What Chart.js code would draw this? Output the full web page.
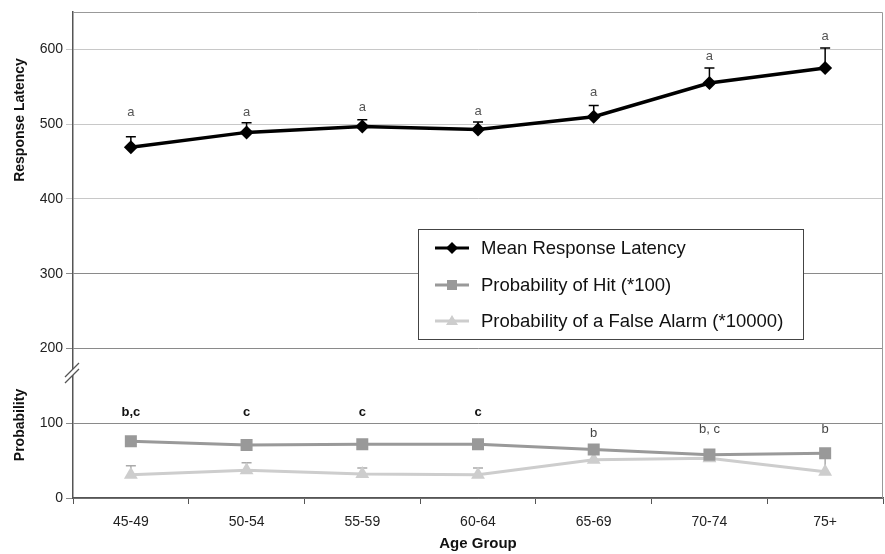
<!DOCTYPE html>
<html>
<head>
<meta charset="utf-8">
<script src="https://cdn.jsdelivr.net/npm/chart.js@4/dist/chart.umd.min.js"></script>
<style>
  body { margin: 0; background: #fff; }
  canvas { display: block; }
</style>
</head>
<body>
<canvas id="ageChart" width="885" height="554"></canvas>
<script>
const ageGroups = ["45-49", "50-54", "55-59", "60-64", "65-69", "70-74", "75+"];

const latency = [469, 489, 497, 493, 510, 555, 575];
const latencyErr = [14, 13, 9, 10, 15, 20, 27];
const latencyLetters = ["a", "a", "a", "a", "a", "a", "a"];
const latencyLetterPos = [516, 516, 522, 517, 542, 590, 618];

const hitProb = [76, 71, 72, 72, 65, 58, 60];
const falseAlarmProb = [31, 37, 32, 31, 51, 53, 35];
const falseAlarmErr = [12, 10, 8, 9, 0, 0, 18];
const probLetters = ["b,c", "c", "c", "c", "b", "b, c", "b"];
const probLetterPos = [114, 114, 114, 114, 87, 92, 92];
const probLetterBold = [true, true, true, true, false, false, false];

const yTicks = [0, 100, 200, 300, 400, 500, 600];

const FONT = "'Liberation Sans', Arial, sans-serif";
const seriesColors = { latency: "#000", hit: "#999", fa: "#cdcdcd" };

// error bars, letters, axis titles, break mark and legend
const decorations = {
  id: "decorations",
  beforeDatasetsDraw(chart) {
    const { ctx } = chart;
    const x = chart.scales.x, y = chart.scales.y;
    const bars = [
      { vals: latency, errs: latencyErr, color: seriesColors.latency },
      { vals: falseAlarmProb, errs: falseAlarmErr, color: "#aaa" },
    ];
    ctx.save();
    ctx.lineWidth = 1.5;
    for (const b of bars) {
      ctx.strokeStyle = b.color;
      b.vals.forEach((v, i) => {
        if (!b.errs[i]) return;
        const px = x.getPixelForValue(i);
        const y0 = y.getPixelForValue(v);
        const y1 = y.getPixelForValue(v + b.errs[i]);
        ctx.beginPath();
        ctx.moveTo(px, y0);
        ctx.lineTo(px, y1);
        ctx.moveTo(px - 5, y1);
        ctx.lineTo(px + 5, y1);
        ctx.stroke();
      });
    }
    ctx.restore();
  },
  afterDraw(chart) {
    const { ctx, chartArea: a } = chart;
    const x = chart.scales.x, y = chart.scales.y;
    ctx.save();

    // top and right frame
    ctx.strokeStyle = "#999";
    ctx.lineWidth = 1;
    ctx.beginPath();
    ctx.moveTo(a.left, a.top + 0.5);
    ctx.lineTo(a.right - 0.5, a.top + 0.5);
    ctx.lineTo(a.right - 0.5, a.bottom);
    ctx.stroke();

    // axis break
    const by = 373;
    ctx.fillStyle = "#fff";
    ctx.beginPath();
    ctx.moveTo(a.left - 8, by + 4);
    ctx.lineTo(a.left + 6, by - 10);
    ctx.lineTo(a.left + 6, by - 4);
    ctx.lineTo(a.left - 8, by + 10);
    ctx.closePath();
    ctx.fill();
    ctx.strokeStyle = "#555";
    ctx.lineWidth = 1.3;
    ctx.beginPath();
    ctx.moveTo(a.left - 8, by + 4);
    ctx.lineTo(a.left + 6, by - 10);
    ctx.moveTo(a.left - 8, by + 10);
    ctx.lineTo(a.left + 6, by - 4);
    ctx.stroke();

    // significance letters
    ctx.textAlign = "center";
    ctx.textBaseline = "middle";
    ctx.fillStyle = "#555";
    ctx.font = "13px " + FONT;
    latencyLetters.forEach((t, i) => {
      ctx.fillText(t, x.getPixelForValue(i), y.getPixelForValue(latencyLetterPos[i]));
    });
    probLetters.forEach((t, i) => {
      ctx.font = (probLetterBold[i] ? "bold 13px " : "13px ") + FONT;
      ctx.fillStyle = probLetterBold[i] ? "#111" : "#444";
      ctx.fillText(t, x.getPixelForValue(i), y.getPixelForValue(probLetterPos[i]));
    });

    // axis titles
    ctx.fillStyle = "#111";
    ctx.font = "bold 15px " + FONT;
    ctx.fillText("Age Group", (a.left + a.right) / 2, 544);
    ctx.font = "bold 14px " + FONT;
    ctx.save();
    ctx.translate(20, 120);
    ctx.rotate(-Math.PI / 2);
    ctx.fillText("Response Latency", 0, 0);
    ctx.restore();
    ctx.save();
    ctx.translate(20, 425);
    ctx.rotate(-Math.PI / 2);
    ctx.fillText("Probability", 0, 0);
    ctx.restore();

    // legend box
    const lx = 418, ly = 229, lw = 385, lh = 110;
    ctx.fillStyle = "#fff";
    ctx.fillRect(lx, ly, lw, lh);
    ctx.strokeStyle = "#444";
    ctx.lineWidth = 1;
    ctx.strokeRect(lx + 0.5, ly + 0.5, lw, lh);
    const items = chart.data.datasets;
    const rows = [248, 285, 321];
    ctx.textAlign = "left";
    ctx.font = "18.5px " + FONT;
    items.forEach((ds, i) => {
      const ry = rows[i];
      ctx.strokeStyle = ds.borderColor;
      ctx.lineWidth = 3;
      ctx.beginPath();
      ctx.moveTo(435, ry);
      ctx.lineTo(469, ry);
      ctx.stroke();
      ctx.fillStyle = ds.pointBackgroundColor;
      const cx = 452;
      ctx.beginPath();
      if (ds.pointStyle === "rectRot") {
        ctx.moveTo(cx, ry - 6); ctx.lineTo(cx + 6, ry); ctx.lineTo(cx, ry + 6); ctx.lineTo(cx - 6, ry);
      } else if (ds.pointStyle === "rect") {
        ctx.rect(cx - 5, ry - 5, 10, 10);
      } else {
        ctx.moveTo(cx, ry - 6); ctx.lineTo(cx + 6, ry + 4); ctx.lineTo(cx - 6, ry + 4);
      }
      ctx.closePath();
      ctx.fill();
      ctx.fillStyle = "#111";
      ctx.fillText(ds.label, 481, ry + 1);
    });
    ctx.restore();
  },
};

const ctx = document.getElementById("ageChart").getContext("2d");

new Chart(ctx, {
  type: "line",
  data: {
    labels: ageGroups,
    datasets: [
      {
        label: "Mean Response Latency",
        data: latency,
        borderColor: seriesColors.latency,
        backgroundColor: seriesColors.latency,
        pointBackgroundColor: seriesColors.latency,
        pointBorderColor: seriesColors.latency,
        borderWidth: 3.5,
        pointStyle: "rectRot",
        pointRadius: 7,
        pointBorderWidth: 0,
      },
      {
        label: "Probability of Hit (*100)",
        data: hitProb,
        borderColor: seriesColors.hit,
        backgroundColor: seriesColors.hit,
        pointBackgroundColor: seriesColors.hit,
        pointBorderColor: seriesColors.hit,
        borderWidth: 3,
        pointStyle: "rect",
        pointRadius: 8.5,
        pointBorderWidth: 0,
      },
      {
        label: "Probability of a False Alarm (*10000)",
        data: falseAlarmProb,
        borderColor: seriesColors.fa,
        backgroundColor: seriesColors.fa,
        pointBackgroundColor: seriesColors.fa,
        pointBorderColor: seriesColors.fa,
        borderWidth: 3,
        pointStyle: "triangle",
        pointRadius: 8,
        pointBorderWidth: 0,
      },
    ],
  },
  options: {
    responsive: false,
    animation: false,
    layout: { autoPadding: false, padding: { top: 12, right: 2, left: 0, bottom: 0 } },
    plugins: {
      legend: { display: false },
      tooltip: { enabled: false },
    },
    scales: {
      x: {
        offset: true,
        grid: { drawOnChartArea: false, offset: true, tickLength: 6, color: "#555" },
        border: { color: "#555", width: 1.5 },
        ticks: { color: "#222", font: { family: FONT, size: 14 }, padding: 10 },
        afterFit(scale) {
          scale.height = 56;
          scale.paddingLeft = 0;
          scale.paddingRight = 0;
        },
      },
      y: {
        min: 0,
        max: 650,
        afterBuildTicks(scale) {
          scale.ticks = yTicks.map((v) => ({ value: v }));
        },
        grid: {
          tickLength: 7,
          color: (c) => (c.tick && c.tick.value > 300 ? "#c8c8c8" : "#8a8a8a"),
        },
        border: { color: "#555", width: 1.5 },
        ticks: { color: "#222", font: { family: FONT, size: 14 }, padding: 3 },
        afterFit(scale) {
          scale.width = 73;
          scale.paddingTop = 0;
          scale.paddingBottom = 0;
        },
      },
    },
  },
  plugins: [decorations],
});
</script>
</body>
</html>
